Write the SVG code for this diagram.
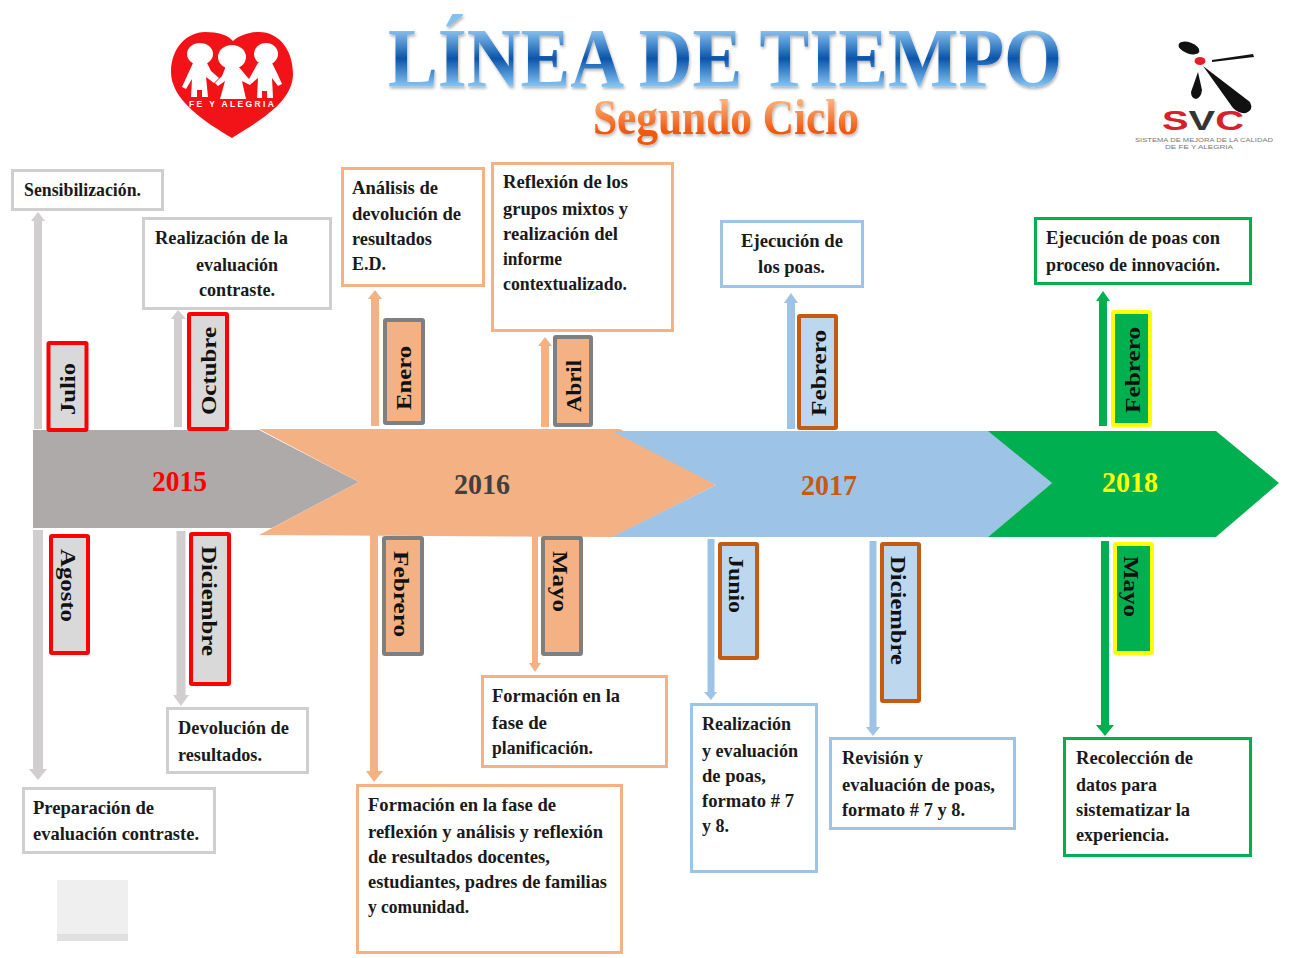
<svg xmlns="http://www.w3.org/2000/svg" width="1289" height="958" viewBox="0 0 1289 958">
<defs>
<linearGradient id="gt" x1="0" y1="0" x2="0" y2="1"><stop offset="0.2" stop-color="#86c0ee"/><stop offset="0.5" stop-color="#0a55ab"/><stop offset="0.8" stop-color="#86c4f2"/></linearGradient>
<linearGradient id="gs" x1="0" y1="0" x2="0" y2="1"><stop offset="0.2" stop-color="#fbb27a"/><stop offset="0.75" stop-color="#f0590f"/></linearGradient>
<filter id="sh" x="-5%" y="-20%" width="110%" height="140%"><feDropShadow dx="1" dy="2" stdDeviation="1.5" flood-color="#000" flood-opacity="0.3"/></filter>
</defs>
<style>
text{font-family:"Liberation Serif","Times New Roman",serif;font-weight:bold;fill:#1a1a1a}
.t{font-size:19.500px}
.m{font-size:22px;fill:#111}
.y{font-size:30px}
.b{fill:#fff;stroke-width:3}
.mb{stroke-width:4}
.g{stroke:#d0cece}.o{stroke:#f4b183}.u{stroke:#9dc3e6}.e{stroke:#00b050}
.a{fill:none;stroke-width:8}
.sf{font-family:"Liberation Sans",sans-serif}
</style>
<rect width="1289" height="958" fill="#fff"/>
<g id="logo-fe-y-alegria">
<path d="M232 138C205 122 171 100 171 72C171 48 187 32 205 32C218 32 228 35 233 41C240 35 250 32 259 32C279 32 293 50 293 74C293 102 259 121 232 138Z" fill="#f21318"/>
<g fill="#fff"><ellipse cx="200" cy="54" rx="13" ry="11"/><ellipse cx="232" cy="57" rx="14" ry="12"/><ellipse cx="266" cy="54" rx="12" ry="11"/>
<path d="M193 63h14l4 8 8 7 -5 5 -8 -6 2 20h-6v-7h-5v7h-6l1 -18 -6 10 -4 -2z"/><path d="M226 66h12l5 6 5 6 5 4 -3 3 -8 -4 4 18h-26l5 -18 -7 5 -3 -3 7 -7z"/><path d="M258 63h14l5 10 5 11 -4 2 -6 -8 1 20h-6v-7h-5v7h-5l1 -20 -6 5 -3 -4z"/></g>
<text class="sf" x="189" y="107" textLength="85" lengthAdjust="spacing" style="font-size:8.500px;fill:#fff">FE Y ALEGRIA</text>
</g>
<g id="logo-svc">
<ellipse cx="1189" cy="48" rx="11" ry="5.500" transform="rotate(20 1189 48)" fill="#111"/>
<path d="M1212 60L1253 54L1254 57L1212 62Z" fill="#111"/>
<path d="M1203 66L1250 102Q1254 110 1246 113Q1239 114 1233 108Z" fill="#111"/>
<path d="M1198 72L1202 90Q1201 98 1196 99Q1191 98 1191 92Z" fill="#111"/>
<ellipse cx="1200" cy="61" rx="5.500" ry="4" fill="#e0202a"/>
<text class="sf" x="1162" y="130" textLength="82" lengthAdjust="spacingAndGlyphs" style="font-size:28px;font-weight:bold;fill:#d8202a">S<tspan style="fill:#333">V</tspan>C</text>
<text class="sf" x="1135" y="141.500" textLength="138" lengthAdjust="spacingAndGlyphs" style="font-size:6px;font-weight:normal;fill:#777">SISTEMA DE MEJORA DE LA CALIDAD</text>
<text class="sf" x="1165" y="149" textLength="68" lengthAdjust="spacingAndGlyphs" style="font-size:6px;font-weight:normal;fill:#777">DE FE Y ALEGRIA</text>
</g>
<g id="title">
<text x="388" y="87" textLength="674" lengthAdjust="spacingAndGlyphs" style="font-size:84px;fill:url(#gt)" filter="url(#sh)">LÍNEA DE TIEMPO</text>
<text x="593" y="134" textLength="266" lengthAdjust="spacingAndGlyphs" style="font-size:51px;fill:url(#gs)" filter="url(#sh)">Segundo Ciclo</text>
</g>
<g id="connectors">
<path class="a g" d="M38 429V220"/><path d="M31 221L38 212L45 221Z" fill="#d0cece"/>
<path class="a g" d="M178 427V318"/><path d="M171 319L178 310L186 319Z" fill="#d0cece"/>
<path class="a o" d="M375 426V298"/><path d="M368 299L375 290L382 299Z" fill="#f4b183"/>
<path class="a o" d="M545 427V345"/><path d="M538 346L545 337L552 346Z" fill="#f4b183"/>
<path class="a u" d="M791 429V302"/><path d="M784 303L791 293L798 303Z" fill="#9dc3e6"/>
<path class="a e" d="M1103 426V300"/><path d="M1096 301L1103 291L1110 301Z" fill="#00b050"/>
<path class="a g" d="M38 530V770" style="stroke-width:10"/><path d="M29 769L38 780L47 769Z" fill="#d0cece"/>
<path class="a g" d="M181 531V696" style="stroke-width:9"/><path d="M173 695L181 706L189 695Z" fill="#d0cece"/>
<path class="a o" d="M374 534V772"/><path d="M366 771L374 782L383 771Z" fill="#f4b183"/>
<path class="a o" d="M535 534V664" style="stroke-width:6"/><path d="M529 663L535 672L541 663Z" fill="#f4b183"/>
<path class="a u" d="M711 539V693" style="stroke-width:7"/><path d="M704 692L711 700L717 692Z" fill="#9dc3e6"/>
<path class="a u" d="M873 541V728" style="stroke-width:7"/><path d="M866 727L873 736L880 727Z" fill="#9dc3e6"/>
<path class="a e" d="M1105 541V726"/><path d="M1096 725L1105 736L1114 725Z" fill="#00b050"/>
</g>
<g id="arrow-2015"><path d="M33 430H259L359 482L272 528H33Z" fill="#aeaaaa"/><text class="y" x="152" y="491" textLength="55" lengthAdjust="spacingAndGlyphs" style="fill:#f00">2015</text></g>
<g id="arrow-2016"><path d="M259 429H620L716 485L613 537L259 535L359 482Z" fill="#f4b183"/><text class="y" x="454" y="494" textLength="56" lengthAdjust="spacingAndGlyphs" style="fill:#404040">2016</text></g>
<g id="arrow-2017"><path d="M612 431H990L1052 483L988 537H612L716 485Z" fill="#9dc3e6"/><text class="y" x="801" y="495" textLength="56" lengthAdjust="spacingAndGlyphs" style="fill:#c55a11">2017</text></g>
<g id="arrow-2018"><path d="M988 431H1216L1279 483L1216 537H988L1052 483Z" fill="#00b050"/><text class="y" x="1102" y="492" textLength="56" lengthAdjust="spacingAndGlyphs" style="fill:#ff0">2018</text></g>
<g id="m-julio"><rect class="mb" x="48.500" y="343" width="38" height="87" rx="1" fill="#d9d9d9" stroke="#f00"/><text class="m" textLength="52" lengthAdjust="spacingAndGlyphs" transform="translate(75 415) rotate(-90)">Julio</text></g>
<g id="m-octubre"><rect class="mb" x="189" y="314" width="38" height="115" rx="1" fill="#d9d9d9" stroke="#f00"/><text class="m" textLength="88" lengthAdjust="spacingAndGlyphs" transform="translate(216 415) rotate(-90)">Octubre</text></g>
<g id="m-enero"><rect class="mb" x="385" y="320" width="38" height="103" rx="1" fill="#f4b183" stroke="#7f7f7f"/><text class="m" textLength="64" lengthAdjust="spacingAndGlyphs" transform="translate(411 410) rotate(-90)">Enero</text></g>
<g id="m-abril"><rect class="mb" x="555" y="337" width="36" height="88" rx="1" fill="#f4b183" stroke="#7f7f7f"/><text class="m" textLength="52" lengthAdjust="spacingAndGlyphs" transform="translate(581 412) rotate(-90)">Abril</text></g>
<g id="m-febrero-2017"><rect class="mb" x="799" y="316" width="37" height="112" rx="1" fill="#bdd7ee" stroke="#c55a11"/><text class="m" textLength="86" lengthAdjust="spacingAndGlyphs" transform="translate(826 416) rotate(-90)">Febrero</text></g>
<g id="m-febrero-2018"><rect class="mb" x="1113" y="312" width="37" height="113" rx="1" fill="#00b050" stroke="#ff0"/><text class="m" textLength="86" lengthAdjust="spacingAndGlyphs" transform="translate(1140 413) rotate(-90)">Febrero</text></g>
<g id="m-agosto"><rect class="mb" x="51" y="536" width="37" height="117" rx="1" fill="#d9d9d9" stroke="#f00"/><text class="m" textLength="73" lengthAdjust="spacingAndGlyphs" transform="translate(61 549) rotate(90)">Agosto</text></g>
<g id="m-diciembre-2015"><rect class="mb" x="191" y="534" width="38" height="150" rx="1" fill="#d9d9d9" stroke="#f00"/><text class="m" textLength="110" lengthAdjust="spacingAndGlyphs" transform="translate(202 546) rotate(90)">Diciembre</text></g>
<g id="m-febrero-2016"><rect class="mb" x="384" y="538" width="38" height="116" rx="1" fill="#f4b183" stroke="#7f7f7f"/><text class="m" textLength="86" lengthAdjust="spacingAndGlyphs" transform="translate(394 551) rotate(90)">Febrero</text></g>
<g id="m-mayo-2016"><rect class="mb" x="543" y="538" width="38" height="116" rx="1" fill="#f4b183" stroke="#7f7f7f"/><text class="m" textLength="61" lengthAdjust="spacingAndGlyphs" transform="translate(553 551) rotate(90)">Mayo</text></g>
<g id="m-junio"><rect class="mb" x="720" y="544" width="37" height="114" rx="1" fill="#bdd7ee" stroke="#c55a11"/><text class="m" textLength="57" lengthAdjust="spacingAndGlyphs" transform="translate(729 556) rotate(90)">Junio</text></g>
<g id="m-diciembre-2017"><rect class="mb" x="882" y="544" width="37" height="157" rx="1" fill="#bdd7ee" stroke="#c55a11"/><text class="m" textLength="109" lengthAdjust="spacingAndGlyphs" transform="translate(891 556) rotate(90)">Diciembre</text></g>
<g id="m-mayo-2018"><rect class="mb" x="1115" y="544" width="37" height="109" rx="1" fill="#00b050" stroke="#ff0"/><text class="m" textLength="61" lengthAdjust="spacingAndGlyphs" transform="translate(1124 556) rotate(90)">Mayo</text></g>
<g id="b-sensibilizacion"><rect class="b g" x="12.500" y="170.500" width="150" height="39"/><text class="t" x="24" y="196" textLength="117" lengthAdjust="spacingAndGlyphs">Sensibilización.</text></g>
<g id="b-realizacion-contraste"><rect class="b g" x="143.500" y="218.500" width="187" height="90"/><text class="t" x="155" y="244" textLength="133" lengthAdjust="spacingAndGlyphs">Realización de la</text><text class="t" x="196" y="271" textLength="82" lengthAdjust="spacingAndGlyphs">evaluación</text><text class="t" x="199" y="296" textLength="76" lengthAdjust="spacingAndGlyphs">contraste.</text></g>
<g id="b-analisis"><rect class="b o" x="342.500" y="168.500" width="141" height="117"/><text class="t" x="352" y="194" textLength="86" lengthAdjust="spacingAndGlyphs">Análisis de</text><text class="t" x="352" y="220" textLength="109" lengthAdjust="spacingAndGlyphs">devolución de</text><text class="t" x="352" y="245" textLength="80" lengthAdjust="spacingAndGlyphs">resultados</text><text class="t" x="352" y="270" textLength="34" lengthAdjust="spacingAndGlyphs">E.D.</text></g>
<g id="b-reflexion-grupos"><rect class="b o" x="492.500" y="163.500" width="180" height="167"/><text class="t" x="503" y="188" textLength="125" lengthAdjust="spacingAndGlyphs">Reflexión de los</text><text class="t" x="503" y="215" textLength="125" lengthAdjust="spacingAndGlyphs">grupos mixtos y</text><text class="t" x="503" y="240" textLength="115" lengthAdjust="spacingAndGlyphs">realización del</text><text class="t" x="503" y="265" textLength="59" lengthAdjust="spacingAndGlyphs">informe</text><text class="t" x="503" y="290" textLength="124" lengthAdjust="spacingAndGlyphs">contextualizado.</text></g>
<g id="b-ejecucion-poas"><rect class="b u" x="721.500" y="221.500" width="141" height="65"/><text class="t" x="741" y="247" textLength="102" lengthAdjust="spacingAndGlyphs">Ejecución de</text><text class="t" x="758" y="273" textLength="67" lengthAdjust="spacingAndGlyphs">los poas.</text></g>
<g id="b-ejecucion-innovacion"><rect class="b e" x="1035.500" y="218.500" width="215" height="65"/><text class="t" x="1046" y="244" textLength="174" lengthAdjust="spacingAndGlyphs">Ejecución de poas con</text><text class="t" x="1046" y="271" textLength="174" lengthAdjust="spacingAndGlyphs">proceso de innovación.</text></g>
<g id="b-preparacion"><rect class="b g" x="23.500" y="788.500" width="191" height="64"/><text class="t" x="33" y="814" textLength="121" lengthAdjust="spacingAndGlyphs">Preparación de</text><text class="t" x="33" y="840" textLength="166" lengthAdjust="spacingAndGlyphs">evaluación contraste.</text></g>
<g id="b-devolucion"><rect class="b g" x="167.500" y="708.500" width="140" height="64"/><text class="t" x="178" y="734" textLength="111" lengthAdjust="spacingAndGlyphs">Devolución de</text><text class="t" x="178" y="761" textLength="84" lengthAdjust="spacingAndGlyphs">resultados.</text></g>
<g id="b-formacion-reflexion"><rect class="b o" x="357.500" y="785.500" width="264" height="167"/><text class="t" x="368" y="811" textLength="188" lengthAdjust="spacingAndGlyphs">Formación en la fase de</text><text class="t" x="368" y="838" textLength="235" lengthAdjust="spacingAndGlyphs">reflexión y análisis y reflexión</text><text class="t" x="368" y="863" textLength="182" lengthAdjust="spacingAndGlyphs">de resultados docentes,</text><text class="t" x="368" y="888" textLength="239" lengthAdjust="spacingAndGlyphs">estudiantes, padres de familias</text><text class="t" x="368" y="913" textLength="101" lengthAdjust="spacingAndGlyphs">y comunidad.</text></g>
<g id="b-formacion-planificacion"><rect class="b o" x="482.500" y="676.500" width="184" height="90"/><text class="t" x="492" y="702" textLength="128" lengthAdjust="spacingAndGlyphs">Formación en la</text><text class="t" x="492" y="729" textLength="55" lengthAdjust="spacingAndGlyphs">fase de</text><text class="t" x="492" y="754" textLength="101" lengthAdjust="spacingAndGlyphs">planificación.</text></g>
<g id="b-realizacion-poas"><rect class="b u" x="691.500" y="704.500" width="125" height="167"/><text class="t" x="702" y="730" textLength="89" lengthAdjust="spacingAndGlyphs">Realización</text><text class="t" x="702" y="757" textLength="96" lengthAdjust="spacingAndGlyphs">y evaluación</text><text class="t" x="702" y="782" textLength="64" lengthAdjust="spacingAndGlyphs">de poas,</text><text class="t" x="702" y="807" textLength="92" lengthAdjust="spacingAndGlyphs">formato # 7</text><text class="t" x="702" y="832" textLength="27" lengthAdjust="spacingAndGlyphs">y 8.</text></g>
<g id="b-revision"><rect class="b u" x="830.500" y="738.500" width="184" height="90"/><text class="t" x="842" y="764" textLength="81" lengthAdjust="spacingAndGlyphs">Revisión y</text><text class="t" x="842" y="791" textLength="153" lengthAdjust="spacingAndGlyphs">evaluación de poas,</text><text class="t" x="842" y="816" textLength="123" lengthAdjust="spacingAndGlyphs">formato # 7 y 8.</text></g>
<g id="b-recoleccion"><rect class="b e" x="1064.500" y="738.500" width="186" height="117"/><text class="t" x="1076" y="764" textLength="117" lengthAdjust="spacingAndGlyphs">Recolección de</text><text class="t" x="1076" y="791" textLength="81" lengthAdjust="spacingAndGlyphs">datos para</text><text class="t" x="1076" y="816" textLength="114" lengthAdjust="spacingAndGlyphs">sistematizar la</text><text class="t" x="1076" y="841" textLength="93" lengthAdjust="spacingAndGlyphs">experiencia.</text></g>
<g id="swatch"><rect x="57" y="880" width="71" height="61" fill="#efefef"/><rect x="57" y="934" width="71" height="7" fill="#e0e0e0"/></g>
</svg>
